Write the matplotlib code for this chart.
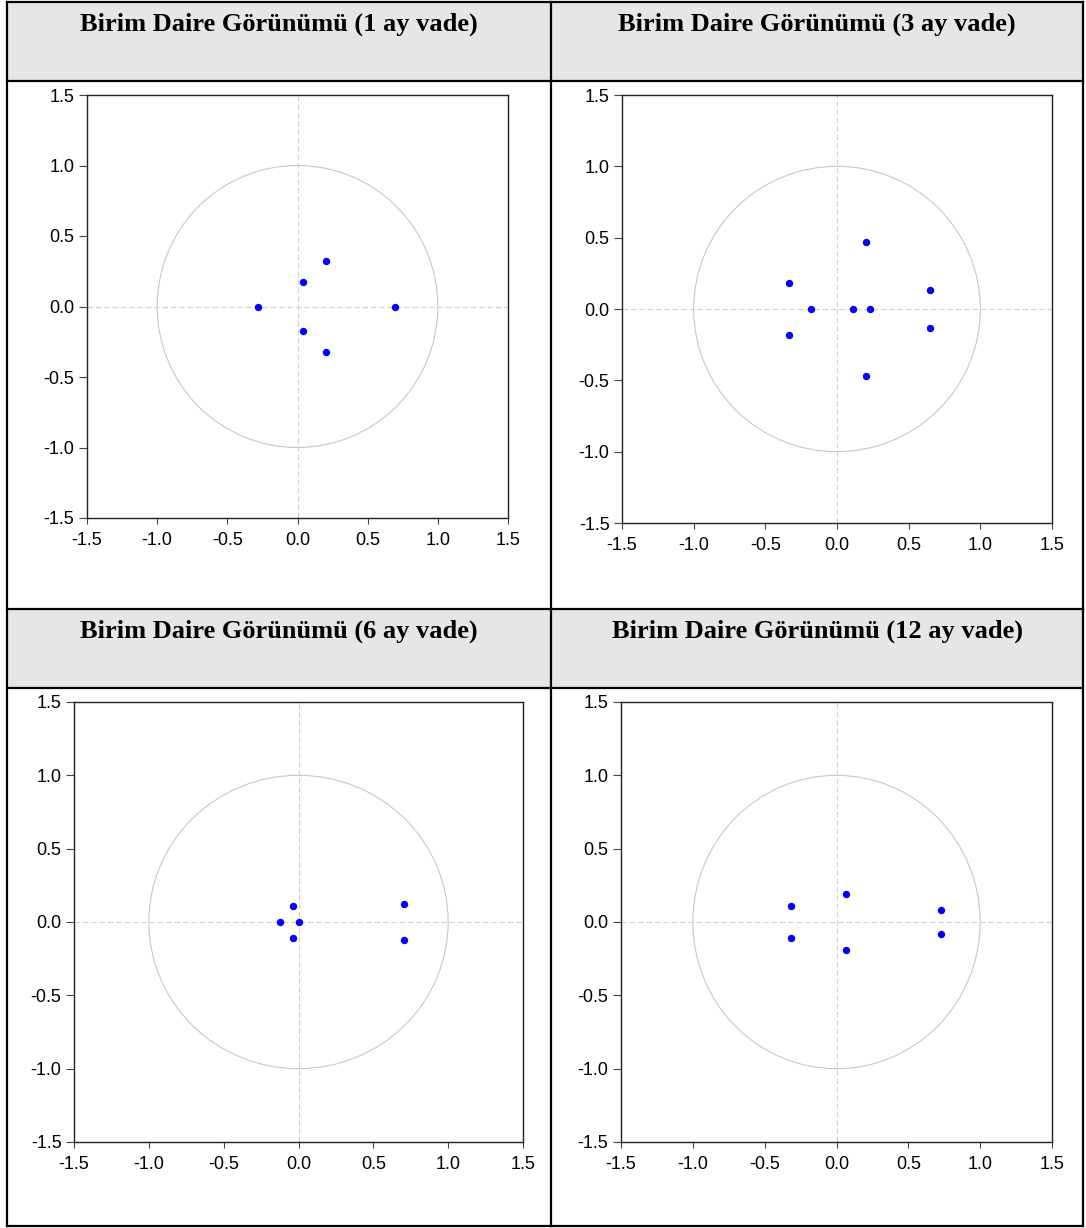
import matplotlib.pyplot as plt
from matplotlib.patches import Rectangle, Circle

titles = [
    "Birim Daire Görünümü (1 ay vade)",
    "Birim Daire Görünümü (3 ay vade)",
    "Birim Daire Görünümü (6 ay vade)",
    "Birim Daire Görünümü (12 ay vade)",
]

# roots (real, imaginary) for each panel
re_1 = [-0.283, 0.036, 0.036, 0.205, 0.205, 0.698]
im_1 = [0.0, 0.173, -0.173, 0.324, -0.324, 0.0]

re_3 = [-0.334, -0.334, -0.178, 0.110, 0.229, 0.203, 0.203, 0.652, 0.652]
im_3 = [0.185, -0.185, 0.0, 0.0, 0.0, 0.472, -0.472, 0.134, -0.134]

re_6 = [-0.121, -0.040, -0.040, 0.003, 0.705, 0.705]
im_6 = [0.0, 0.108, -0.108, 0.0, 0.126, -0.126]

re_12 = [-0.316, -0.316, 0.065, 0.065, 0.728, 0.728]
im_12 = [0.111, -0.111, 0.188, -0.188, 0.085, -0.085]

ticks = [-1.5, -1.0, -0.5, 0.0, 0.5, 1.0, 1.5]
tick_labels = ["-1.5", "-1.0", "-0.5", "0.0", "0.5", "1.0", "1.5"]

W, H = 1086, 1228
fig = plt.figure(figsize=(W / 100, H / 100), dpi=100)

# table frame drawn in pixel coordinates
bg = fig.add_axes([0, 0, 1, 1])
bg.set_xlim(0, W)
bg.set_ylim(H, 0)
bg.axis("off")

left, right, top, bottom, mid = 7, 1083, 2, 1226, 551
headers = [(2, 81), (609, 688)]
for y0, y1 in headers:
    bg.add_patch(Rectangle((left, y0), right - left, y1 - y0, facecolor="#e6e6e6", edgecolor="none"))
for y in [top, 81, 609, 688, bottom]:
    bg.plot([left, right], [y, y], color="black", lw=1.6, solid_capstyle="projecting")
for x in [left, mid, right]:
    bg.plot([x, x], [top, bottom], color="black", lw=1.6, solid_capstyle="projecting")

title_pos = [((left + mid) / 2, 24), ((mid + right) / 2, 24),
             ((left + mid) / 2, 631), ((mid + right) / 2, 631)]
for t, (tx, ty) in zip(titles, title_pos):
    bg.text(tx, ty, t, ha="center", va="center", fontsize=19, fontweight="bold",
            family="Liberation Serif")

# panel boxes: x0, x1, y0, y1 in pixels
boxes = [(87, 508, 95, 518), (622, 1052, 95, 523), (74, 523, 702, 1142), (621, 1052, 702, 1142)]
data = [(re_1, im_1), (re_3, im_3), (re_6, im_6), (re_12, im_12)]

for (x0, x1, y0, y1), (re, im) in zip(boxes, data):
    ax = fig.add_axes([x0 / W, 1 - y1 / H, (x1 - x0) / W, (y1 - y0) / H])
    ax.set_xlim(-1.5, 1.5)
    ax.set_ylim(-1.5, 1.5)
    ax.axhline(0, color="#d0d0d0", lw=0.8, dashes=(5, 2.5), zorder=1)
    ax.axvline(0, color="#d0d0d0", lw=0.8, dashes=(5, 2.5), zorder=1)
    ax.add_patch(Circle((0, 0), 1, fill=False, edgecolor="#c8c8c8", lw=0.8, zorder=1))
    ax.plot(re, im, "o", color="#0000ff", ms=4.3, zorder=3)
    ax.set_xticks(ticks)
    ax.set_xticklabels(tick_labels)
    ax.set_yticks(ticks)
    ax.set_yticklabels(tick_labels)
    for s in ax.spines.values():
        s.set_color("#222222")
        s.set_linewidth(1.0)
    ax.tick_params(axis="x", length=4.3, width=0.8, pad=5.5, labelsize=13, color="#444444")
    ax.tick_params(axis="y", length=6, width=0.8, pad=3, labelsize=13, color="#444444")
    for lab in ax.get_xticklabels() + ax.get_yticklabels():
        lab.set_family("Liberation Sans")

fig.savefig("out.png", dpi=100)
